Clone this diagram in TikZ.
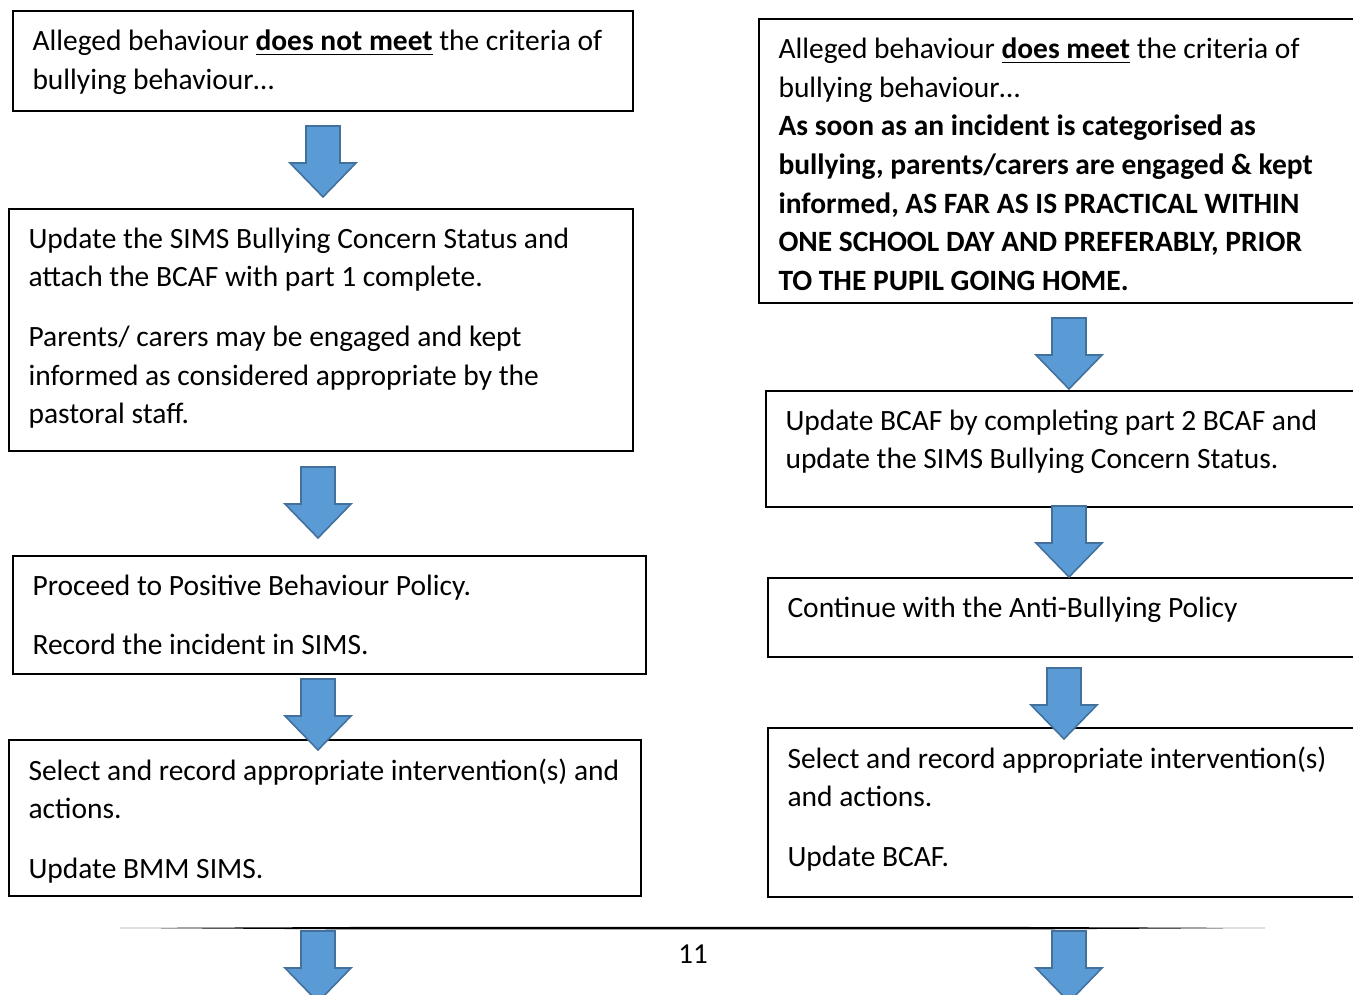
\documentclass[tikz,border=0pt]{standalone}
\usepackage{fontspec}
\setmainfont{Carlito}
\usetikzlibrary{positioning}

\newcommand\pxu{0.38pt}
\definecolor{arrowfill}{RGB}{91,155,213}
\definecolor{arrowedge}{RGB}{65,113,156}

\tikzset{
    box/.style={draw, line width=0.75pt, anchor=north west, inner sep=0pt},
    txt/.style={anchor=north west, inner sep=0pt, align=left, font=\fontsize{11.2}{14.7}\selectfont},
    blockarrow/.pic={
        \filldraw[fill=arrowfill, draw=arrowedge, line width=0.6pt]
            (-17,0) -- (17,0) -- (17,37) -- (33,37) -- (0,71) -- (-33,37) -- (-17,37) -- cycle;
    }
}

\begin{document}
\begin{tikzpicture}[x=0.38pt, y=-0.38pt]
        \useasboundingbox (0,0) rectangle (1353,995);
        \clip (0,0) rectangle (1353,995);

        % left column
        \node[box, minimum width=620*\pxu, minimum height=100*\pxu] (notMeet) at (12,10) {};
        \node[box, minimum width=624*\pxu, minimum height=242*\pxu] (updateSims) at (8,208) {};
        \node[box, minimum width=633*\pxu, minimum height=118*\pxu] (positive) at (12,555) {};
        \node[box, minimum width=632*\pxu, minimum height=156*\pxu] (selectLeft) at (8,739) {};

        \node[txt, below right=7.3pt and 7.6pt of notMeet.north west] (notMeetTxt)
            {Alleged behaviour \underline{\textbf{does not meet}} the criteria of\\ bullying behaviour…};
        \node[txt, below right=7.3pt and 7.6pt of updateSims.north west] (updateSimsTxt)
            {Update the SIMS Bullying Concern Status and\\ attach the BCAF with part 1 complete.\\[8pt]
             Parents/ carers may be engaged and kept\\ informed as considered appropriate by the\\ pastoral staff.};
        \node[txt, below right=7.3pt and 7.6pt of positive.north west] (positiveTxt)
            {Proceed to Positive Behaviour Policy.\\[8pt] Record the incident in SIMS.};
        \node[txt, below right=7.3pt and 7.6pt of selectLeft.north west] (selectLeftTxt)
            {Select and record appropriate intervention(s) and\\ actions.\\[8pt] Update BMM SIMS.};

        % right column
        \node[box, minimum width=700*\pxu, minimum height=284*\pxu] (doesMeet) at (758,18) {};
        \node[box, minimum width=700*\pxu, minimum height=116*\pxu] (partTwo) at (765,390) {};
        \node[box, minimum width=700*\pxu, minimum height=79*\pxu] (continue) at (767,577) {};
        \node[box, minimum width=700*\pxu, minimum height=169*\pxu] (selectRight) at (767,727) {};

        \node[txt, below right=7.3pt and 7.6pt of doesMeet.north west] (doesMeetTxt)
            {Alleged behaviour \underline{\textbf{does meet}} the criteria of\\ bullying behaviour…\\
             \textbf{As soon as an incident is categorised as}\\
             \textbf{bullying, parents/carers are engaged \& kept}\\
             \textbf{informed, AS FAR AS IS PRACTICAL WITHIN}\\
             \textbf{ONE SCHOOL DAY AND PREFERABLY, PRIOR}\\
             \textbf{TO THE PUPIL GOING HOME.}};
        \node[txt, below right=7.3pt and 7.6pt of partTwo.north west] (partTwoTxt)
            {Update BCAF by completing part 2 BCAF and\\ update the SIMS Bullying Concern Status.};
        \node[txt, below right=7.3pt and 7.6pt of continue.north west] (continueTxt)
            {Continue with the Anti-Bullying Policy};
        \node[txt, below right=7.3pt and 7.6pt of selectRight.north west] (selectRightTxt)
            {Select and record appropriate intervention(s)\\ and actions.\\[8pt] Update BCAF.};

        % block arrows
        \pic (arrA) at (323,126) {blockarrow};
        \pic (arrB) at (318,467) {blockarrow};
        \pic (arrC) at (318,679) {blockarrow};
        \pic (arrD) at (318,931) {blockarrow};
        \pic (arrE) at (1069,318) {blockarrow};
        \pic (arrF) at (1069,506) {blockarrow};
        \pic (arrG) at (1064,668) {blockarrow};
        \pic (arrH) at (1069,931) {blockarrow};

        % footer
        \fill (120,928) -- (350,927) -- (1030,927) -- (1265,928) -- (1030,929.4) -- (350,929.4) -- cycle;
        \node[font=\fontsize{11}{13}\selectfont] (pageNum) at (693,954) {11};
\end{tikzpicture}
\end{document}
